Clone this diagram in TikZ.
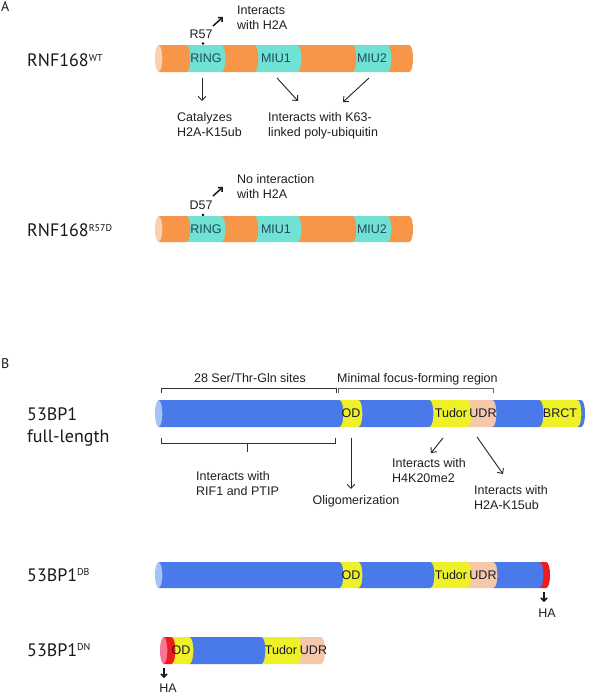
\documentclass[tikz,border=0pt]{standalone}
\usepackage{fontspec}
\setmainfont{Liberation Sans}
\newfontfamily\rowf{PT Sans}
\usetikzlibrary{arrows.meta}
\definecolor{orng}{RGB}{247,150,72}
\definecolor{orngcap}{RGB}{250,208,175}
\definecolor{cyn}{RGB}{112,226,212}
\definecolor{blu}{RGB}{74,122,234}
\definecolor{blucap}{RGB}{165,195,245}
\definecolor{yel}{RGB}{238,240,40}
\definecolor{pch}{RGB}{246,200,170}
\definecolor{rd}{RGB}{238,28,28}
\definecolor{rdcap}{RGB}{245,120,150}
\definecolor{segtxtA}{RGB}{35,70,95}
\definecolor{segtxtB}{RGB}{25,25,45}
\definecolor{brk}{RGB}{50,50,50}
\newcommand\segm[5]{%
 \fill[#5] ({#1-0.6},{#3}) -- ({#2},{#3}) .. controls ({#2+5.33},{#3}) and ({#2+5.33},{#4}) .. ({#2},{#4}) -- ({#1-0.6},{#4}) .. controls ({#1+4.73},{#4}) and ({#1+4.73},{#3}) .. ({#1-0.6},{#3}) -- cycle;}
\newcommand\capm[4]{%
 \fill[#4] ({#1},{#2}) .. controls ({#1-5.33},{#2}) and ({#1-5.33},{#3}) .. ({#1},{#3}) .. controls ({#1+5.33},{#3}) and ({#1+5.33},{#2}) .. ({#1},{#2}) -- cycle;}
\newcommand\sups[1]{\raisebox{5.5pt}{\fontsize{10}{10}\selectfont #1}}
\tikzset{
 txt/.style={font=\fontsize{12.5}{15}\selectfont, inner sep=0pt, align=left, text=black!88},
 rowlbl/.style={font=\rowf\fontsize{18}{22}\selectfont, inner sep=0pt, align=left, text=black!90},
 panel/.style={font=\rowf\fontsize{14}{14}\selectfont, inner sep=0pt, text=black!90},
 segA/.style={font=\fontsize{12.5}{15}\selectfont, inner sep=0pt, text=segtxtA},
 segB/.style={font=\fontsize{12.5}{15}\selectfont, inner sep=0pt, text=segtxtB},
 arr/.style={-{Straight Barb[length=4pt,width=7.5pt]}, line width=0.9pt, draw=black!85},
 harr/.style={-{Straight Barb[length=3pt,width=6pt]}, line width=1.5pt, draw=black!90},
 bracket/.style={line width=0.8pt, draw=brk},
}
\begin{document}
\begin{tikzpicture}[x=1pt,y=-1pt]
\useasboundingbox (0,0) rectangle (590,697);
\fill[white] (0,0) rectangle (590,697);

% panel labels
\node[panel, anchor=base west] (pA) at (1,11) {A};
\node[panel, anchor=base west] (pB) at (1,368) {B};

% ---------- RNF168 WT ----------
\node[rowlbl, anchor=base west] (rwt) at (27,66.5) {RNF168\sups{WT}};
\capm{159}{45}{72}{orngcap}
\segm{159}{187}{45}{72}{orng}
\segm{187}{222}{45}{72}{cyn}
\segm{222}{255}{45}{72}{orng}
\segm{255}{298}{45}{72}{cyn}
\segm{298}{353}{45}{72}{orng}
\segm{353}{388}{45}{72}{cyn}
\segm{388}{409}{45}{72}{orng}
\node[segA] (ring1) at (206,58.5) {RING};
\node[segA] (miu11) at (276,58.5) {MIU1};
\node[segA] (miu21) at (372,58.5) {MIU2};
\fill[black] (203,43.5) circle (1.3);
\node[txt] (r57) at (201,34) {R57};
\coordinate (r57s) at (213,26);
\coordinate (r57e) at (223,17);
\draw[harr] (r57s) -- (r57e);
\node[txt, anchor=north west] (h2a1) at (237,5.5) {Interacts\\with H2A};
\coordinate (ringS) at (202,78);
\coordinate (ringE) at (202,101);
\draw[arr] (ringS) -- (ringE);
\node[txt, anchor=north west] (cat) at (177,112.5) {Catalyzes\\H2A-K15ub};
\coordinate (m1S) at (277,78);
\coordinate (m1E) at (298,101);
\coordinate (m2S) at (369,78);
\coordinate (m2E) at (343,102);
\draw[arr] (m1S) -- (m1E);
\draw[arr] (m2S) -- (m2E);
\node[txt, anchor=north west] (k63) at (268,112.5) {Interacts with K63-\\linked poly-ubiquitin};

% ---------- RNF168 R57D ----------
\node[rowlbl, anchor=base west] (rmut) at (27,236.5) {RNF168\sups{R57D}};
\capm{159}{216}{242}{orngcap}
\segm{159}{187}{216}{242}{orng}
\segm{187}{222}{216}{242}{cyn}
\segm{222}{255}{216}{242}{orng}
\segm{255}{298}{216}{242}{cyn}
\segm{298}{353}{216}{242}{orng}
\segm{353}{388}{216}{242}{cyn}
\segm{388}{409}{216}{242}{orng}
\node[segA] (ring2) at (206,229.5) {RING};
\node[segA] (miu12) at (276,229.5) {MIU1};
\node[segA] (miu22) at (372,229.5) {MIU2};
\fill[black] (203,215) circle (1.3);
\node[txt] (d57) at (201,205) {D57};
\coordinate (d57s) at (213,196);
\coordinate (d57e) at (223,187);
\draw[harr] (d57s) -- (d57e);
\node[txt, anchor=north west] (noh2a) at (237,174.5) {No interaction\\with H2A};

% ---------- 53BP1 full-length ----------
\node[txt, anchor=base] (sites) at (250,382.5) {28 Ser/Thr-Gln sites};
\node[txt, anchor=base west] (mffr) at (337,382.5) {Minimal focus-forming region};
\draw[bracket] (161,392.5) -- (161,388) -- (336,388) -- (336,392.5);
\draw[bracket, draw=black!60] (338,392.5) -- (338,388) -- (493,388) -- (493,392.5);
\node[rowlbl, anchor=north west] (fl) at (27,407) {53BP1\\full-length};
\capm{159}{400}{427}{blucap}
\segm{159}{340}{400}{427}{blu}
\segm{340}{359}{400}{427}{yel}
\segm{359}{430}{400}{427}{blu}
\segm{430}{468}{400}{427}{yel}
\segm{468}{493}{400}{427}{pch}
\segm{493}{540}{400}{427}{blu}
\segm{540}{578}{400}{427}{yel}
\segm{578}{581}{400}{427}{blu}
\node[segB] (od1) at (351,413.5) {OD};
\node[segB] (tud1) at (451,413.5) {Tudor};
\node[segB] (udr1) at (483,413.5) {UDR};
\node[segB] (brct) at (560,413.5) {BRCT};
\draw[bracket] (161,438) -- (161,443) -- (335,443) -- (335,438);
\coordinate (brm) at (247,443);
\coordinate (brt) at (247,452);
\draw[bracket] (brm) -- (brt);
\node[txt, anchor=north west] (rif) at (196,471.5) {Interacts with\\RIF1 and PTIP};
\coordinate (odS) at (351,438);
\coordinate (odE) at (351,489);
\draw[arr] (odS) -- (odE);
\node[txt, anchor=base] (olig) at (356,504.5) {Oligomerization};
\coordinate (tuS) at (443,438);
\coordinate (tuE) at (431,453);
\draw[arr] (tuS) -- (tuE);
\node[txt, anchor=north west] (h4k) at (392,458.5) {Interacts with\\H4K20me2};
\coordinate (udS) at (477,437);
\coordinate (udE) at (503,474);
\draw[arr] (udS) -- (udE);
\node[txt, anchor=north west] (h2ak) at (474,485.5) {Interacts with\\H2A-K15ub};

% ---------- 53BP1 DB ----------
\node[rowlbl, anchor=base west] (dbl) at (27,581) {53BP1\sups{DB}};
\capm{159}{562}{588}{blucap}
\segm{159}{340}{562}{588}{blu}
\segm{340}{359}{562}{588}{yel}
\segm{359}{431}{562}{588}{blu}
\segm{431}{468}{562}{588}{yel}
\segm{468}{494}{562}{588}{pch}
\segm{494}{540}{562}{588}{blu}
\segm{540}{546}{562}{588}{rd}
\node[segB] (od2) at (351,575.5) {OD};
\node[segB] (tud2) at (451,575.5) {Tudor};
\node[segB] (udr2) at (483,575.5) {UDR};
\coordinate (haS1) at (544,592);
\coordinate (haE1) at (544,602);
\draw[harr] (haS1) -- (haE1);
\node[txt] (ha1) at (547,613) {HA};

% ---------- 53BP1 DN ----------
\node[rowlbl, anchor=base west] (dnl) at (27,656) {53BP1\sups{DN}};
\capm{164}{637}{664}{rdcap}
\segm{164}{172}{637}{664}{rd}
\segm{172}{190}{637}{664}{yel}
\segm{190}{262}{637}{664}{blu}
\segm{262}{298}{637}{664}{yel}
\segm{298}{321}{637}{664}{pch}
\node[segB] (od3) at (181,650.5) {OD};
\node[segB] (tud3) at (281,650.5) {Tudor};
\node[segB] (udr3) at (313.5,650.5) {UDR};
\coordinate (haS2) at (164,668);
\coordinate (haE2) at (164,678);
\draw[harr] (haS2) -- (haE2);
\node[txt] (ha2) at (168,688) {HA};
\end{tikzpicture}
\end{document}
